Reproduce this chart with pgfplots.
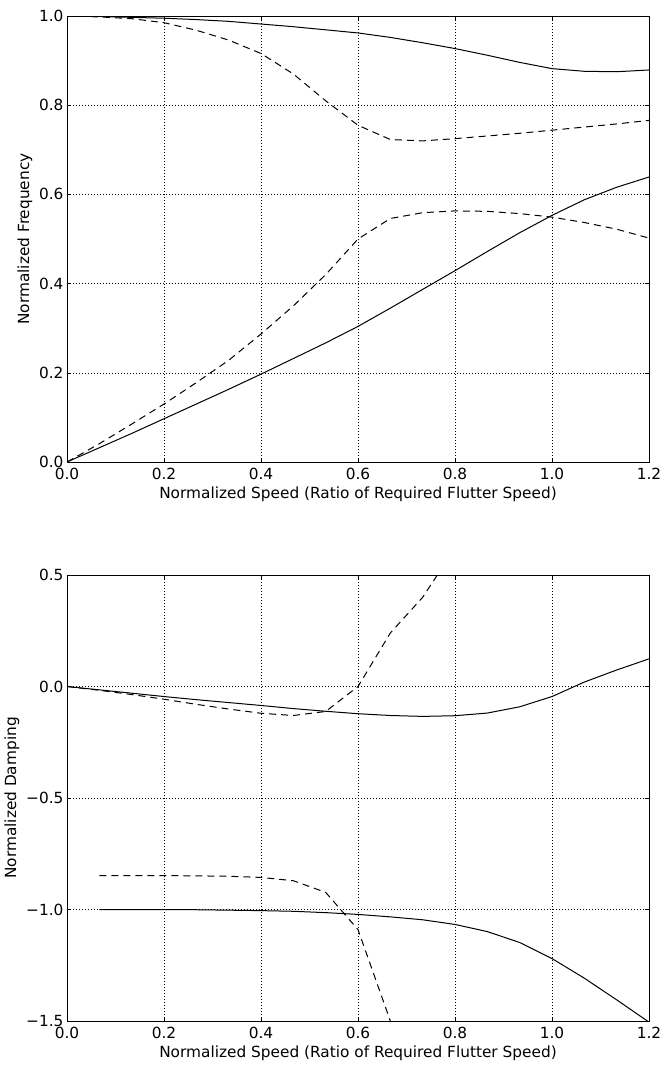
\documentclass[border=0pt]{standalone}
\usepackage{fontspec}
\setmainfont{DejaVu Sans}
\usepackage{pgfplots}
\pgfplotsset{compat=1.18}
\begin{document}
\begin{tikzpicture}
\useasboundingbox (0bp,0bp) rectangle (664bp,-1071bp);
\pgfplotsset{
  myax/.style={
    scale only axis, width=582bp, height=446bp,
    xmin=0, xmax=1.2,
    xtick={0,0.2,0.4,0.6,0.8,1.0,1.2},
    xticklabels={0.0,0.2,0.4,0.6,0.8,1.0,1.2},
    grid=major,
    major grid style={black, line width=0.5bp, dash pattern=on 1bp off 2bp},
    axis line style={black, line width=1bp},
    tick align=inside, major tick length=4bp,
    tick style={black, line width=0.6bp},
    xtick pos=both, ytick pos=both,
    xticklabel style={font=\fontsize{15.4}{18}\selectfont, yshift=-3bp},
    yticklabel style={font=\fontsize{15.4}{18}\selectfont},
    xlabel={Normalized Speed (Ratio of Required Flutter Speed)},
    label style={font=\fontsize{15.4}{18}\selectfont},
    clip=true,
  },
  sol/.style={black, line width=1bp, no markers},
  das/.style={black, line width=1bp, no markers, dash pattern=on 7bp off 5bp},
}
\begin{axis}[myax, at={(67bp,-16bp)}, anchor=north west,
  ymin=0, ymax=1,
  ytick={0,0.2,0.4,0.6,0.8,1.0},
  yticklabels={0.0,0.2,0.4,0.6,0.8,1.0},
  ylabel={Normalized Frequency}]
\addplot[sol] coordinates {(0,1.0) (0.0667,0.999) (0.1333,0.997) (0.2,0.995) (0.2667,0.992) (0.3333,0.988) (0.4,0.982) (0.4667,0.976) (0.5333,0.969) (0.6,0.962) (0.6667,0.952) (0.7333,0.940) (0.8,0.927) (0.8667,0.912) (0.9333,0.896) (1.0,0.882) (1.0667,0.876) (1.1333,0.875) (1.2,0.879)};
\addplot[das] coordinates {(0,1.0) (0.0667,0.998) (0.1333,0.994) (0.2,0.985) (0.2667,0.968) (0.3333,0.946) (0.4,0.916) (0.4667,0.870) (0.5333,0.810) (0.6,0.755) (0.6667,0.723) (0.7333,0.720) (0.8,0.725) (0.8667,0.731) (0.9333,0.737) (1.0,0.744) (1.0667,0.751) (1.1333,0.758) (1.2,0.766)};
\addplot[das] coordinates {(0,0) (0.0667,0.041) (0.1333,0.085) (0.2,0.130) (0.2667,0.178) (0.3333,0.228) (0.4,0.287) (0.4667,0.350) (0.5333,0.420) (0.6,0.500) (0.6667,0.546) (0.7333,0.559) (0.8,0.563) (0.8667,0.562) (0.9333,0.557) (1.0,0.549) (1.0667,0.537) (1.1333,0.522) (1.2,0.502)};
\addplot[sol] coordinates {(0,0) (0.0667,0.032) (0.1333,0.064) (0.2,0.097) (0.2667,0.130) (0.3333,0.163) (0.4,0.197) (0.4667,0.232) (0.5333,0.267) (0.6,0.304) (0.6667,0.345) (0.7333,0.387) (0.8,0.429) (0.8667,0.472) (0.9333,0.514) (1.0,0.553) (1.0667,0.588) (1.1333,0.616) (1.2,0.639)};
\end{axis}
\begin{axis}[myax, at={(67bp,-575bp)}, anchor=north west,
  ymin=-1.5, ymax=0.5,
  ytick={-1.5,-1.0,-0.5,0,0.5},
  yticklabels={−1.5,−1.0,−0.5,0.0,0.5},
  ylabel={Normalized Damping}]
\addplot[sol] coordinates {(0,0) (0.0667,-0.015) (0.1333,-0.030) (0.2,-0.045) (0.2667,-0.059) (0.3333,-0.072) (0.4,-0.085) (0.4667,-0.099) (0.5333,-0.111) (0.6,-0.122) (0.6667,-0.130) (0.7333,-0.134) (0.8,-0.131) (0.8667,-0.119) (0.9333,-0.091) (1.0,-0.045) (1.0667,0.020) (1.1333,0.074) (1.2,0.124)};
\addplot[das] coordinates {(0,0) (0.0667,-0.017) (0.1333,-0.036) (0.2,-0.057) (0.2667,-0.080) (0.3333,-0.101) (0.4,-0.120) (0.4667,-0.130) (0.5333,-0.112) (0.6,0.0) (0.6667,0.24) (0.7333,0.40) (0.8,0.62)};
\addplot[sol] coordinates {(0.0667,-1.0) (0.1333,-1.0) (0.2,-1.0) (0.2667,-1.001) (0.3333,-1.003) (0.4,-1.005) (0.4667,-1.008) (0.5333,-1.014) (0.6,-1.022) (0.6667,-1.033) (0.7333,-1.046) (0.8,-1.067) (0.8667,-1.099) (0.9333,-1.148) (1.0,-1.220) (1.0667,-1.308) (1.1333,-1.405) (1.2,-1.505)};
\addplot[das] coordinates {(0.0667,-0.848) (0.1333,-0.848) (0.2,-0.848) (0.2667,-0.849) (0.3333,-0.851) (0.4,-0.856) (0.4667,-0.871) (0.5333,-0.923) (0.6,-1.09) (0.6667,-1.50)};
\end{axis}
\end{tikzpicture}
\end{document}
